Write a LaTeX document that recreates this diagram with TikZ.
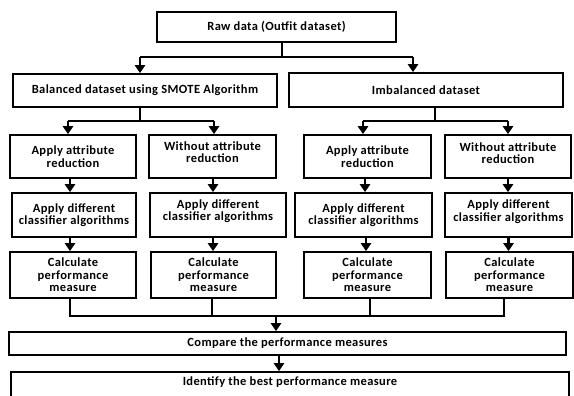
\documentclass[tikz,border=0pt]{standalone}
\usepackage{fontspec}
\setmainfont{Carlito}[LetterSpace=3]
\usetikzlibrary{arrows.meta}
\tikzset{
  bx/.style={draw=black, line width=1.6pt, inner sep=0pt, fill=white},
  txt/.style={inner sep=0pt, align=center, font=\bfseries\fontsize{12.5}{12.5}\selectfont},
  conn/.style={draw=black, line width=1.5pt},
  arr/.style={draw=black, line width=2.2pt, -{Triangle[width=10pt,length=8pt]}},
}
\begin{document}
\begin{tikzpicture}[x=1pt,y=-1pt]
\useasboundingbox (0,0) rectangle (574,396);
\clip (0,0) rectangle (574,396);
% top
\node[bx, minimum width=239pt, minimum height=30pt] (raw) at (276.5,27) {};
\node[txt] (traw) at (raw.center) {Raw data (Outfit dataset)};
\node[bx, minimum width=264pt, minimum height=33pt] (bal) at (145,90.5) {};
\node[txt] (tbal) at (bal.center) {Balanced dataset using SMOTE Algorithm};
\node[bx, minimum width=274pt, minimum height=34pt] (imb) at (426,90) {};
\node[txt] (timb) at (imb.center) {Imbalanced dataset};
% row 3
\node[bx, minimum width=126pt, minimum height=43pt] (r3a) at (73,156.5) {};
\node[bx, minimum width=127pt, minimum height=43pt] (r3b) at (212.5,156.5) {};
\node[bx, minimum width=127pt, minimum height=43pt] (r3c) at (367.5,156.5) {};
\node[bx, minimum width=126pt, minimum height=43pt] (r3d) at (508,156.5) {};
\node[txt] (t3a) at (r3a.center) {Apply attribute\\reduction};
\node[txt] (t3b) at ([yshift=4.5pt]r3b.center) {Without attribute\\reduction};
\node[txt] (t3c) at (r3c.center) {Apply attribute\\reduction};
\node[txt] (t3d) at ([yshift=3.5pt]r3d.center) {Without attribute\\reduction};
% row 4
\node[bx, minimum width=124pt, minimum height=44pt] (r4a) at (74,215) {};
\node[bx, minimum width=136pt, minimum height=44pt] (r4b) at (218,215) {};
\node[bx, minimum width=137pt, minimum height=44pt] (r4c) at (363.5,215) {};
\node[bx, minimum width=127pt, minimum height=44pt] (r4d) at (508.5,215) {};
\node[txt] (t4a) at (r4a.center) {Apply different\\classifier algorithms};
\node[txt] (t4b) at ([yshift=4pt]r4b.center) {Apply different\\classifier algorithms};
\node[txt] (t4c) at (r4c.center) {Apply different\\classifier algorithms};
\node[txt] (t4d) at ([yshift=3.5pt]r4d.center) {Apply different\\classifier algorithms};
% row 5
\node[bx, minimum width=126pt, minimum height=46pt] (r5a) at (73,275) {};
\node[bx, minimum width=125pt, minimum height=46pt] (r5b) at (213.5,275) {};
\node[bx, minimum width=127pt, minimum height=46pt] (r5c) at (367.5,275) {};
\node[bx, minimum width=127pt, minimum height=46pt] (r5d) at (509.5,275) {};
\node[txt] (t5a) at (r5a.center) {Calculate\\performance\\measure};
\node[txt] (t5b) at (r5b.center) {Calculate\\performance\\measure};
\node[txt] (t5c) at (r5c.center) {Calculate\\performance\\measure};
\node[txt] (t5d) at (r5d.center) {Calculate\\performance\\measure};
% bottom
\node[bx, minimum width=557pt, minimum height=23pt] (cmp) at (287.5,343.5) {};
\node[txt] (tcmp) at (cmp.center) {Compare the performance measures};
\node[bx, minimum width=558pt, minimum height=30pt] (idf) at (290,387) {};
\node[txt] (tidf) at (290,382) {Identify the best performance measure};
% connectors
\coordinate (j1) at (0,57);
\coordinate (j2) at (0,121);
\coordinate (bus) at (0,316);
\draw[conn] ([xshift=5.5pt]raw.south) -- ([xshift=5.5pt]raw.south |- j1);
\draw[conn] ([xshift=-5pt]bal.north |- j1) -- ([xshift=-13pt]imb.north |- j1);
\draw[arr] ([xshift=-5pt]bal.north |- j1) -- ([xshift=-5pt]bal.north);
\draw[arr] ([xshift=-13pt]imb.north |- j1) -- ([xshift=-13pt]imb.north);
\draw[conn] ([xshift=-5pt]bal.south) -- ([xshift=-5pt]bal.south |- j2);
\draw[conn] ([xshift=-5pt]r3a.north |- j2) -- ([xshift=1.5pt]r3b.north |- j2);
\draw[arr] ([xshift=-5pt]r3a.north |- j2) -- ([xshift=-5pt]r3a.north);
\draw[arr] ([xshift=1.5pt]r3b.north |- j2) -- ([xshift=1.5pt]r3b.north);
\draw[conn] ([xshift=9pt]imb.south) -- ([xshift=9pt]imb.south |- j2);
\draw[conn] ([xshift=-4.5pt]r3c.north |- j2) -- (r3d.north |- j2);
\draw[arr] ([xshift=-4.5pt]r3c.north |- j2) -- ([xshift=-4.5pt]r3c.north);
\draw[arr] (r3d.north |- j2) -- (r3d.north);
% row 3 -> row 4
\draw[arr] ([xshift=-3pt]r3a.south) -- ([xshift=-3pt]r3a.south |- r4a.north);
\draw[arr] ([xshift=0.5pt]r3b.south) -- ([xshift=0.5pt]r3b.south |- r4b.north);
\draw[arr] ([xshift=-2.5pt]r3c.south) -- ([xshift=-2.5pt]r3c.south |- r4c.north);
\draw[arr] (r3d.south) -- (r3d.south |- r4d.north);
% row 4 -> row 5
\draw[arr] ([xshift=-4pt]r4a.south) -- ([xshift=-4pt]r4a.south |- r5a.north);
\draw[arr] ([xshift=-5pt]r4b.south) -- ([xshift=-5pt]r4b.south |- r5b.north);
\draw[arr] ([xshift=2.5pt]r4c.south) -- ([xshift=2.5pt]r4c.south |- r5c.north);
\draw[arr] (r4d.south) -- (r4d.south |- r5d.north);
% row 5 -> compare
\draw[conn] ([xshift=-3pt]r5a.south) -- ([xshift=-3pt]r5a.south |- bus) -- ([xshift=-5.5pt]r5d.south |- bus) -- ([xshift=-5.5pt]r5d.south);
\draw[conn] ([xshift=-1.5pt]r5b.south) -- ([xshift=-1.5pt]r5b.south |- bus);
\draw[conn] ([xshift=2.5pt]r5c.south) -- ([xshift=2.5pt]r5c.south |- bus);
\draw[arr] ([xshift=-11.5pt]cmp.north |- bus) -- ([xshift=-11.5pt]cmp.north);
\draw[arr] ([xshift=-8.5pt]cmp.south) -- ([xshift=-8.5pt]cmp.south |- idf.north);
\end{tikzpicture}
\end{document}
